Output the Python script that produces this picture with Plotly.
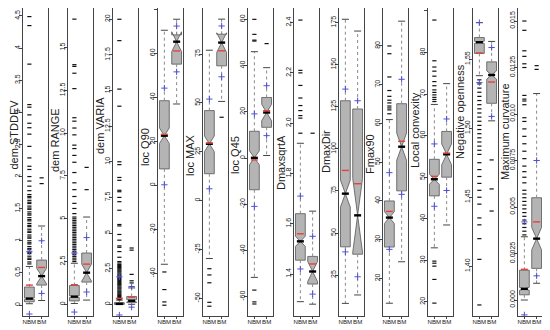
import plotly.graph_objects as go

GROUPS = ["NBM", "BM"]

TITLES = ["dem STDDEV", "dem RANGE", "dem VARIA", "loc Q90", "loc MAX", "loc Q45",
          "DmaxsqrtA", "DmaxDir", "Fmax90", "Local convexity", "Negative openness",
          "Maximum curvature"]

Y_RANGE = [[-0.171, 4.624], [-0.68, 17.31], [-0.82, 20.79], [-59.3, 80.6],
           [-59.0, 98.6], [-68.3, 64.9], [1.233, 2.458], [0.7, 183.7],
           [10.3, 89.8], [16.6, 90.7], [1.364, 1.587], [-0.00086, 0.0157]]

TICKVALS = [[0, 0.5, 1, 1.5, 2, 2.5, 3, 3.5, 4, 4.5],
            [0, 2.5, 5, 7.5, 10, 12.5, 15],
            [0, 2.5, 5, 7.5, 10, 12.5, 15, 17.5, 20],
            [-40, -20, 0, 20, 40, 60, 80],
            [-50, -25, 0, 25, 50, 75],
            [-60, -40, -20, 0, 20, 40, 60],
            [1.4, 1.6, 1.8, 2.0, 2.2, 2.4],
            [25, 50, 75, 100, 125, 150, 175],
            [20, 30, 40, 50, 60, 70, 80],
            [20, 30, 40, 50, 60, 70, 80, 90],
            [1.40, 1.45, 1.50, 1.55],
            [0, 0.0025, 0.005, 0.0075, 0.010, 0.0125, 0.015]]

TICKTEXT = [["0", "0.5", "1", "1.5", "2", "2.5", "3", "3.5", "4", "4.5"],
            ["0", "2.5", "5", "7.5", "10", "12.5", "15"],
            ["0", "2.5", "5", "7.5", "10", "12.5", "15", "17.5", "20"],
            ["-40", "-20", "0", "20", "40", "60", "80"],
            ["-50", "-25", "0", "25", "50", "75"],
            ["-60", "-40", "-20", "0", "20", "40", "60"],
            ["1.4", "1.6", "1.8", "2.0", "2.2", "2.4"],
            ["25", "50", "75", "100", "125", "150", "175"],
            ["20", "30", "40", "50", "60", "70", "80"],
            ["20", "30", "40", "50", "60", "70", "80", "90"],
            ["1.40", "1.45", "1.50", "1.55"],
            ["0.000", "0.0025", "0.005", "0.0075", "0.010", "0.0125", "0.015"]]

# box statistics, [NBM, BM] for every panel
Q1 = [[0.05, 0.31], [0.2, 1.3], [0.0, 0.12], [7.5, 55.1], [13.8, 69.0], [-13.7, 13.3],
      [1.455, 1.36], [41.8, 37.4], [28.1, 42.6], [45.5, 50.0], [1.5541, 1.518],
      [0.00028, 0.0017]]
MEDIAN = [[0.10, 0.45], [0.45, 1.85], [0.03, 0.25], [22.6, 65.3], [29.1, 80.9], [0.1, 19.7],
          [1.53, 1.41], [73.4, 60.5], [35.7, 54.0], [49.5, 55.5], [1.5622, 1.5385],
          [0.0006, 0.0033]]
Q3 = [[0.28, 0.70], [1.1, 3.0], [0.12, 0.55], [38.5, 68.4], [46.1, 85.2], [11.6, 26.2],
      [1.64, 1.47], [128.6, 123.7], [40.0, 65.1], [54.3, 61.0], [1.5656, 1.548],
      [0.0016, 0.0055]]
LOWER = [[0.02, 0.07], [0.05, 0.25], [0.0, 0.0], [-35.8, 37.0], [-29.6, 50.8], [-51.6, 1.1],
         [1.29, 1.28], [8.2, 13.2], [13.6, 24.3], [33.0, 38.5], [1.538, 1.5053],
         [0.0, 0.0009]]
UPPER = [[0.60, 1.23], [2.4, 5.1], [0.3, 1.15], [70.5, 75.5], [77.0, 92.9], [46.0, 39.1],
         [1.92, 1.65], [177.0, 170.0], [61.0, 86.4], [67.5, 72.5], [1.5764, 1.5628],
         [0.0034, 0.0111]]
NOTCH = [[0.01, 0.12], [0.05, 0.5], [0.005, 0.08], [3.5, 4.5], [4.0, 5.0], [3.0, 3.5],
         [0.02, 0.04], [8.0, 22.0], [1.5, 3.5], [1.2, 2.5], [0.0008, 0.003],
         [0.00008, 0.0006]]
MEAN = [[0.31, 0.585], [1.15, 2.35], [0.42, 0.5], [23.2, 61.1], [29.5, 76.7], [-0.8, 20.5],
        [1.56, 1.44], [87.2, 79.3], [37.3, 55.4], [50.2, 55.8], [1.5545, 1.5334],
        [0.00165, 0.0042]]
SD_LOW = [[-0.14, 0.18], [-0.45, 0.72], [-0.75, -0.2], [0.3, 51.6], [6.1, 63.4], [-20.9, 9.7],
          [1.42, 1.32], [38.8, 24.0], [27.5, 41.7], [43.0, 46.8], [1.533, 1.5085],
          [-0.0008, 0.0013]]
SD_HIGH = [[0.83, 1.0], [3.0, 3.9], [1.93, 1.25], [44.2, 72.4], [52.0, 89.4], [19.1, 31.3],
           [1.71, 1.55], [135.5, 128.6], [47.3, 71.4], [58.0, 64.0], [1.5764, 1.5584],
           [0.0042, 0.0075]]

OUT_NBM = [
    [0.64, 0.67, 0.71, 0.73, 0.76, 0.8, 0.82, 0.86, 0.88, 0.91, 0.95, 0.97, 1.0, 1.04,
     1.06, 1.09, 1.13, 1.15, 1.18, 1.22, 1.24, 1.27, 1.31, 1.33, 1.36, 1.4, 1.42, 1.45,
     1.49, 1.51, 1.54, 1.58, 1.6, 1.63, 1.67, 1.69, 1.72, 1.78, 1.85, 1.93, 2.0, 2.11,
     2.16, 2.29, 2.47, 2.66, 2.76, 2.83, 2.96, 3.08, 3.12, 3.75, 4.35, 4.49],
    [2.5, 2.6, 2.7, 2.8, 2.9, 3.0, 3.1, 3.2, 3.3, 3.4, 3.5, 3.6, 3.7, 3.8, 3.9, 4.0,
     4.1, 4.2, 4.3, 4.4, 4.5, 4.6, 4.7, 4.8, 4.9, 5.0, 5.1, 5.3, 5.6, 5.9, 6.3, 6.7,
     7.1, 7.7, 8.3, 8.7, 9.1, 9.3, 9.9, 10.3, 10.7, 10.9, 12.6, 13.5, 13.9, 14.0, 16.66],
    [0.32, 0.4, 0.48, 0.55, 0.62, 0.7, 0.78, 0.85, 0.92, 1.0, 1.08, 1.15, 1.22, 1.3,
     1.38, 1.45, 1.52, 1.6, 1.68, 1.75, 1.82, 1.9, 1.98, 2.05, 2.12, 2.2, 2.28, 2.35,
     2.42, 2.5, 2.58, 2.65, 2.72, 2.8, 2.9, 3.0, 3.3, 3.7, 4.0, 4.1, 4.5, 4.9, 5.5,
     5.6, 6.6, 7.2, 7.5, 7.9, 8.0, 8.7, 8.9, 9.8, 10.0, 13.9, 15.1, 18.5, 20.0],
    [-39.3, -47.3, -52.9, -54.4],
    [-34.8, -38.0, -42.0, -52.0, -54.0],
    [60.0, 53.5, 51.0, 50.6, -57.1, -62.2, -63.1],
    [1.96, 2.02, 2.03, 2.05, 2.07, 2.10, 2.15, 2.20, 2.21, 2.41],
    [],
    [62.5, 63.5, 64.0, 64.5, 65.3, 66.0, 67.0, 68.5, 72.0, 78.0, 80.0],
    [19.7, 25.4, 28.6, 29.3, 29.8, 68.2, 68.7, 69.2, 69.8, 70.4, 71.0, 72.0, 73.0, 74.3,
     75.5, 76.5, 78.0, 87.8],
    [1.372, 1.405, 1.42, 1.43, 1.435, 1.445, 1.45, 1.455, 1.46, 1.465, 1.47, 1.475,
     1.481, 1.484, 1.487, 1.49, 1.493, 1.496, 1.499, 1.502, 1.505, 1.508, 1.511, 1.514,
     1.517, 1.52, 1.523, 1.526, 1.529, 1.532, 1.535],
    [0.0035, 0.0037, 0.0039, 0.0041, 0.0043, 0.0045, 0.0047, 0.0049, 0.0051, 0.0053,
     0.0055, 0.0057, 0.0059, 0.0063, 0.0066, 0.0069, 0.0072, 0.0076, 0.008, 0.0084,
     0.0088, 0.0092, 0.0096, 0.0098, 0.0105, 0.0107, 0.0108, 0.011, 0.0125, 0.0127,
     0.0131, 0.0134, 0.0145, 0.015],
]
OUT_BM = [
    [1.89, 1.98], [6.7, 8.0], [1.5, 1.65, 2.1, 3.8, 3.95], [], [42.7], [49.5], [1.96],
    [], [], [], [1.477, 1.456, 1.44], [0.0124, 0.0126],
]

# layout, in page pixels; the page body adds an 8px margin around the figure
PAGE_W, PAGE_H, BODY = 550, 330, 8
W, H = PAGE_W - BODY, PAGE_H - BODY
FRAME_LEFT = [23, 68, 113, 158, 203, 248, 294, 339, 383, 428, 473, 518]
FRAME_W = 25
FRAME_TOP, FRAME_BOTTOM = 8, 316
TITLE_X = [13.5, 55, 100, 145, 190, 235, 281, 326, 370, 415, 460, 505]
TITLE_Y = [135, 140, 126, 147, 155, 155, 163, 152, 154, 130, 112, 132]

FONT = "Liberation Sans, Arial, sans-serif"
TXT = "#222222"
AXC = "#444444"


def px(x):
    return (x - BODY) / W


def py(y):
    return 1 - (y - BODY) / H


fig = go.Figure()
layout = dict(
    width=W, height=H, margin=dict(l=0, r=0, t=0, b=0, autoexpand=False),
    paper_bgcolor="white", plot_bgcolor="white", showlegend=False,
    font=dict(family=FONT, color=TXT), boxmode="overlay", annotations=[],
)

for i in range(12):
    n = "" if i == 0 else str(i + 1)
    xa, ya = "x" + n, "y" + n
    nbm, bm = GROUPS

    # whiskers (dotted) from the hinges to the fences
    fig.add_trace(go.Scatter(
        x=[nbm, nbm, None, nbm, nbm, None, bm, bm, None, bm, bm],
        y=[Q1[i][0], LOWER[i][0], None, Q3[i][0], UPPER[i][0], None,
           Q1[i][1], LOWER[i][1], None, Q3[i][1], UPPER[i][1]],
        mode="lines", line=dict(color="#8a8a8a", width=1, dash="dot"),
        xaxis=xa, yaxis=ya, hoverinfo="skip"))
    # whisker caps
    fig.add_trace(go.Scatter(
        x=[nbm, nbm, bm, bm],
        y=[LOWER[i][0], UPPER[i][0], LOWER[i][1], UPPER[i][1]],
        mode="markers", marker=dict(symbol="line-ew", size=5,
                                    line=dict(color=AXC, width=1)),
        xaxis=xa, yaxis=ya, hoverinfo="skip"))
    # notched boxes
    fig.add_trace(go.Box(
        x=GROUPS, q1=Q1[i], median=MEDIAN[i], q3=Q3[i],
        lowerfence=Q1[i], upperfence=Q3[i], notchspan=NOTCH[i],
        notched=True, notchwidth=0.5, width=0.8, whiskerwidth=0,
        fillcolor="#b4b4b4", line=dict(color="#555555", width=0.8),
        boxpoints=False, xaxis=xa, yaxis=ya, hoverinfo="skip"))
    # outliers
    fig.add_trace(go.Scatter(
        x=[nbm] * len(OUT_NBM[i]) + [bm] * len(OUT_BM[i]),
        y=OUT_NBM[i] + OUT_BM[i],
        mode="markers", marker=dict(symbol="line-ew", size=3,
                                    line=dict(color="#111111", width=1.2)),
        xaxis=xa, yaxis=ya, hoverinfo="skip"))
    # medians
    fig.add_trace(go.Scatter(
        x=GROUPS, y=MEDIAN[i], mode="markers",
        marker=dict(symbol="line-ew", size=5, line=dict(color="black", width=2.4)),
        xaxis=xa, yaxis=ya, hoverinfo="skip"))
    # mean +- sd
    fig.add_trace(go.Scatter(
        x=[nbm, nbm, bm, bm], y=[SD_LOW[i][0], SD_HIGH[i][0], SD_LOW[i][1], SD_HIGH[i][1]],
        mode="markers",
        marker=dict(symbol="cross-thin", size=4.5, line=dict(color="#5050d0", width=1)),
        xaxis=xa, yaxis=ya, hoverinfo="skip"))
    # means
    fig.add_trace(go.Scatter(
        x=GROUPS, y=MEAN[i], mode="markers",
        marker=dict(symbol="line-ew", size=5, line=dict(color="#e8413a", width=1.4)),
        xaxis=xa, yaxis=ya, hoverinfo="skip"))

    layout["xaxis" + n] = dict(
        domain=[px(FRAME_LEFT[i]), px(FRAME_LEFT[i] + FRAME_W)], anchor=ya,
        type="category", categoryorder="array", categoryarray=GROUPS,
        range=[-0.52, 1.52], showgrid=False, zeroline=False,
        showline=True, mirror=True, linecolor=AXC, linewidth=1,
        ticks="outside", ticklen=2, tickcolor=AXC, tickangle=0, automargin=False,
        ticklabelstandoff=-2,
        tickfont=dict(size=6.1, family=FONT, color=TXT), fixedrange=True)
    layout["yaxis" + n] = dict(
        domain=[py(FRAME_BOTTOM), py(FRAME_TOP)], anchor=xa,
        range=Y_RANGE[i], tickvals=TICKVALS[i], ticktext=TICKTEXT[i], tickangle=-90,
        showgrid=False, zeroline=False, showline=True, mirror=True, automargin=False,
        linecolor=AXC, linewidth=1, ticks="outside", ticklen=3, ticklabelstandoff=-4,
        tickcolor=AXC, tickfont=dict(size=7, family=FONT, color=TXT),
        fixedrange=True)
    layout["annotations"].append(dict(
        text=TITLES[i], textangle=-90, showarrow=False,
        x=px(TITLE_X[i]), y=py(TITLE_Y[i]), xref="paper", yref="paper",
        xanchor="center", yanchor="middle", font=dict(size=11, family=FONT, color=TXT)))

fig.update_layout(**layout)
fig.write_html("out.html")
